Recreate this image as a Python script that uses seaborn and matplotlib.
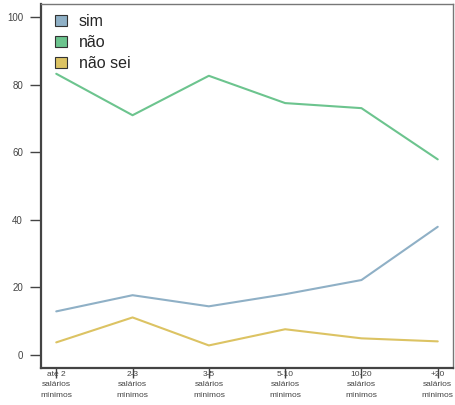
import pandas as pd
import numpy as np
import seaborn as sns
import matplotlib.pyplot as plt
from matplotlib.patches import Patch

categorias = ['até 2\nsalários\nmínimos', '2-3\nsalários\nmínimos', '3-5\nsalários\nmínimos',
              '5-10\nsalários\nmínimos', '10-20\nsalários\nmínimos', '+20\nsalários\nmínimos']
sim = [12.8, 17.6, 14.3, 17.9, 22.1, 37.9]
nao = [83.3, 71.0, 82.7, 74.6, 73.1, 57.9]
nao_sei = [3.6, 11.0, 2.7, 7.5, 4.8, 3.9]
series = ['sim', 'não', 'não sei']
cores = ['#8fb0c6', '#6cc48e', '#dcc363']

df = pd.DataFrame({
    'x': list(range(1, 7)) * 3,
    'valor': sim + nao + nao_sei,
    'resposta': ['sim'] * 6 + ['não'] * 6 + ['não sei'] * 6,
})

sns.set_style('white')
plt.rcParams['font.family'] = ['Liberation Sans', 'DejaVu Sans']

fig = plt.figure(figsize=(4.56, 4.05), dpi=100)
ax = fig.add_axes([41 / 456, 37 / 405, 412 / 456, 364 / 405])

sns.lineplot(data=df, x='x', y='valor', hue='resposta', hue_order=series,
             palette=cores, linewidth=1.5, legend=False, ax=ax)

ax.set_xlim(0.8, 6.2)
ax.set_ylim(-4, 104)
ax.set_xticks(range(1, 7))
ax.set_xticklabels(categorias, fontsize=6, color='#444444', linespacing=1.7)
ax.set_yticks([0, 20, 40, 60, 80, 100])
ax.set_yticklabels(['0', '20', '40', '60', '80', '100'], fontsize=7, color='#444444')
ax.tick_params(axis='y', length=8, width=1, color='#444444', pad=5, left=True)
ax.tick_params(axis='x', length=7, width=1, color='#444444', pad=-5, bottom=True)
ax.set_xlabel('')
ax.set_ylabel('')
for s in ax.spines.values():
    s.set_color('#777777')
    s.set_linewidth(1)
ax.spines['left'].set_linewidth(1.6)
ax.spines['left'].set_color('#444444')
ax.spines['bottom'].set_linewidth(1.6)
ax.spines['bottom'].set_color('#444444')

handles = [Patch(facecolor=c, edgecolor='#333333', linewidth=0.8) for c in cores]
ax.legend(handles, series, loc='upper left', frameon=False, fontsize=11.5,
          handlelength=0.75, handleheight=0.7, handletextpad=0.75,
          labelspacing=0.38, borderaxespad=0.0, borderpad=0.0,
          bbox_to_anchor=(14 / 412, 1 - 10 / 364))

fig.savefig('out.png', dpi=100)
